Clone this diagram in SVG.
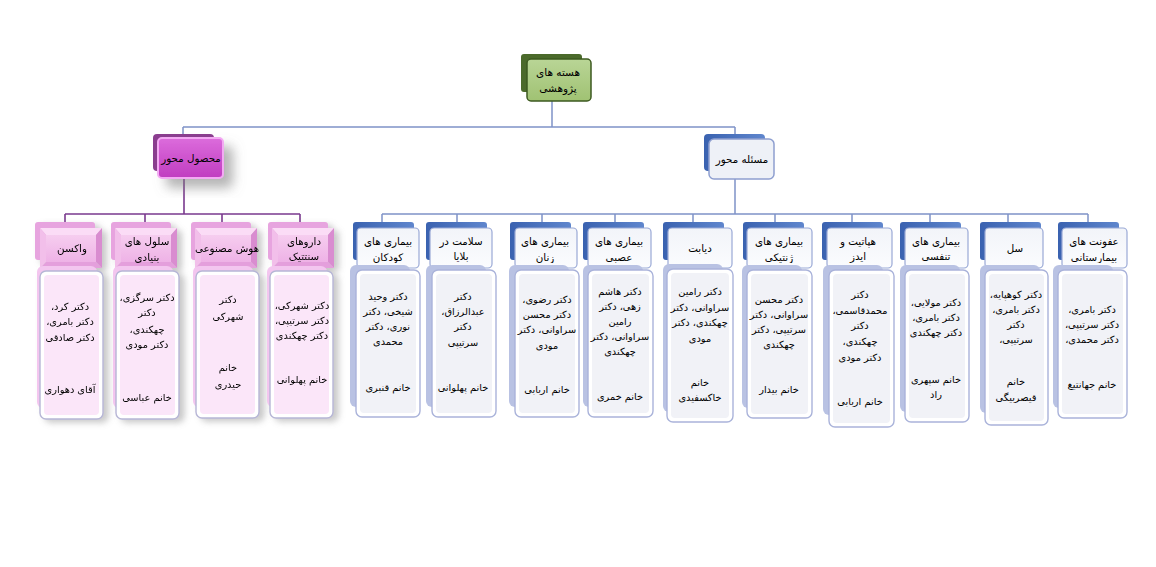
<svg xmlns="http://www.w3.org/2000/svg" xmlns:xlink="http://www.w3.org/1999/xlink" width="1156" height="567" viewBox="0 0 1156 567">
<style>
text{font-family:"DejaVu Sans",sans-serif;direction:rtl;text-anchor:middle;fill:#000}
.b{font-size:9.8px}
.h{font-size:10.3px}
.r{font-size:10.5px}
.cb{fill:none;stroke:#7f93c8;stroke-width:1.5}
.cp{fill:none;stroke:#7a3a8e;stroke-width:1.6}
.bhb{fill:url(#blueBack)}
.bhf{fill:url(#hdrFill);stroke:#9aa9d6;stroke-width:1.2}
.bbb{fill:#b9c2e3}
.bbf{fill:#ffffff;stroke:#aab3da;stroke-width:1.4}
.bbi{fill:#f1f2f7}
.pbb{fill:#f3c6ef}
.pbf{fill:#ffffff;stroke:#b7b6d6;stroke-width:1.4}
.pbi{fill:#fbe6f9}
.phb{fill:#e7a4df}
</style>
<defs>
<linearGradient id="blueBack" x1="0" y1="0" x2="1" y2="0"><stop offset="0" stop-color="#3a62b0"/><stop offset="1" stop-color="#5f86cd"/></linearGradient>
<linearGradient id="hdrFill" x1="0" y1="0" x2="0" y2="1"><stop offset="0" stop-color="#f2f4f9"/><stop offset="1" stop-color="#fbfcfe"/></linearGradient>
<linearGradient id="greenFront" x1="0" y1="0" x2="0" y2="1"><stop offset="0" stop-color="#b9d596"/><stop offset="1" stop-color="#a0c273"/></linearGradient>
<linearGradient id="pinkL2" x1="0" y1="0" x2="0" y2="1"><stop offset="0" stop-color="#dc6cdc"/><stop offset="1" stop-color="#c03cc0"/></linearGradient>
<linearGradient id="pinkFace" x1="0" y1="0" x2="0" y2="1"><stop offset="0" stop-color="#f6cdef"/><stop offset="1" stop-color="#eeb2e6"/></linearGradient>
<filter id="sh" x="-30%" y="-30%" width="180%" height="180%"><feDropShadow dx="9" dy="9" stdDeviation="6" flood-color="#777" flood-opacity="0.55"/></filter>
<filter id="shs" x="-30%" y="-20%" width="180%" height="150%"><feDropShadow dx="5" dy="3" stdDeviation="3" flood-color="#888" flood-opacity="0.45"/></filter>
<g id="pinkHead">
<polygon points="0,0 62,0 56,7 6,7" fill="#fbdcf6"/>
<polygon points="0,0 6,7 6,34 0,40" fill="#f2bfea"/>
<polygon points="62,0 62,40 56,34 56,7" fill="#d98cd0"/>
<polygon points="0,40 6,34 56,34 62,40" fill="#e49fdc"/>
<rect x="6" y="7" width="50" height="27" fill="url(#pinkFace)"/>
</g>
<clipPath id="hc"><rect x="0" y="224" width="1156" height="39"/></clipPath>
</defs>

<g id="connectors">
<path class="cb" d="M552 101V127M183 127H735M183 127V138M735 127V139"/>
<path class="cb" d="M735 179V214M382 214H1088M382 214V222M457 214V222M542 214V222M615 214V222M693 214V222M775 214V222M852 214V222M930 214V222M1008 214V222M1088 214V222"/>
<path class="cp" d="M184 178V214M65 214H300M65 214V222M145 214V222M222 214V222M300 214V222"/>
</g>

<g id="root">
<rect x="521" y="54" width="61" height="38" rx="3" fill="#4b6a2b"/>
<rect x="527" y="59" width="64" height="42" rx="4" fill="url(#greenFront)" stroke="#3d5a20" stroke-width="1.5"/>
<text class="r" x="558"><tspan x="558" y="76">هسته های</tspan><tspan x="558" y="92">پژوهشی</tspan></text>
</g>

<g id="masale">
<rect x="704" y="134" width="61" height="37" rx="4" fill="url(#blueBack)"/>
<rect x="709" y="139" width="65" height="40" rx="5" fill="#eef1f7" stroke="#8e9fd0" stroke-width="1.5"/>
<text class="h" x="742" y="163">مسئله محور</text>
</g>

<g id="mahsul">
<rect x="153" y="134" width="61" height="37" rx="4" fill="#8b3d8f"/>
<rect x="158" y="138" width="65" height="40" rx="4" fill="url(#pinkL2)" stroke="#f3aaf3" stroke-width="2" filter="url(#sh)"/>
<text class="h" x="191" y="162">محصول محور</text>
</g>

<!-- pink columns -->
<g id="vaccine" filter="url(#shs)">
<rect class="phb" x="35" y="222" width="60" height="38" rx="3"/>
<use xlink:href="#pinkHead" x="40" y="228"/>
<text class="h" x="72" y="252">واکسن</text>
<rect class="pbb" x="37" y="266" width="60" height="142" rx="6"/>
<rect class="pbf" x="40" y="271" width="63" height="148" rx="6"/>
<rect class="pbi" x="44" y="275" width="55" height="140" rx="4"/>
<text class="b"><tspan x="70" y="310">دکتر کرد،</tspan><tspan x="70" y="325">دکتر بامری،</tspan><tspan x="70" y="341">دکتر صادقی</tspan><tspan x="70" y="393">آقای دهواری</tspan></text>
</g>

<g id="stemcell" filter="url(#shs)">
<rect class="phb" x="111" y="222" width="60" height="38" rx="3"/>
<use xlink:href="#pinkHead" x="115" y="228"/>
<text class="h" clip-path="url(#hc)"><tspan x="147" y="245">سلول های</tspan><tspan x="147" y="261">بنیادی</tspan></text>
<rect class="pbb" x="113" y="266" width="60" height="142" rx="6"/>
<rect class="pbf" x="116" y="271" width="63" height="148" rx="6"/>
<rect class="pbi" x="120" y="275" width="55" height="140" rx="4"/>
<text class="b"><tspan x="147" y="301">دکتر سرگزی،</tspan><tspan x="147" y="316">دکتر</tspan><tspan x="147" y="333">چهکندی،</tspan><tspan x="147" y="348">دکتر مودی</tspan><tspan x="147" y="401">خانم عباسی</tspan></text>
</g>

<g id="ai" filter="url(#shs)">
<rect class="phb" x="191" y="222" width="60" height="38" rx="3"/>
<use xlink:href="#pinkHead" x="195" y="228"/>
<text class="h" x="227" y="252">هوش مصنوعی</text>
<rect class="pbb" x="193" y="266" width="60" height="141" rx="6"/>
<rect class="pbf" x="196" y="271" width="63" height="147" rx="6"/>
<rect class="pbi" x="200" y="275" width="55" height="139" rx="4"/>
<text class="b"><tspan x="228" y="303">دکتر</tspan><tspan x="228" y="320">شهرکی</tspan><tspan x="228" y="371">خانم</tspan><tspan x="228" y="388">حیدری</tspan></text>
</g>

<g id="drugs" filter="url(#shs)">
<rect class="phb" x="268" y="222" width="60" height="38" rx="3"/>
<use xlink:href="#pinkHead" x="272" y="228"/>
<text class="h" clip-path="url(#hc)"><tspan x="304" y="245">داروهای</tspan><tspan x="304" y="260">سنتتیک</tspan></text>
<rect class="pbb" x="267" y="266" width="60" height="141" rx="6"/>
<rect class="pbf" x="270" y="271" width="63" height="147" rx="6"/>
<rect class="pbi" x="274" y="275" width="55" height="139" rx="4"/>
<text class="b"><tspan x="302" y="309">دکتر شهرکی،</tspan><tspan x="302" y="324">دکتر سرتیپی،</tspan><tspan x="302" y="339">دکتر چهکندی</tspan><tspan x="302" y="383">خانم پهلوانی</tspan></text>
</g>

<!-- blue columns -->
<g id="kudakan">
<rect class="bhb" x="353" y="222" width="61" height="38" rx="3"/>
<rect class="bhf" x="357" y="228" width="62" height="40" rx="4"/>
<text class="h" clip-path="url(#hc)"><tspan x="388" y="245">بیماری های</tspan><tspan x="388" y="261">کودکان</tspan></text>
<rect class="bbb" x="350" y="265" width="60" height="142" rx="6"/>
<rect class="bbf" x="356" y="270" width="64" height="147" rx="6"/>
<rect class="bbi" x="360" y="274" width="56" height="139" rx="4"/>
<text class="b"><tspan x="388" y="300">دکتر وحید</tspan><tspan x="388" y="315">شیخی، دکتر</tspan><tspan x="388" y="330">نوری، دکتر</tspan><tspan x="388" y="345">محمدی</tspan><tspan x="388" y="391">خانم قنبری</tspan></text>
</g>

<g id="balaya">
<rect class="bhb" x="426" y="222" width="61" height="38" rx="3"/>
<rect class="bhf" x="430" y="228" width="62" height="40" rx="4"/>
<text class="h" clip-path="url(#hc)"><tspan x="461" y="245">سلامت در</tspan><tspan x="461" y="260">بلایا</tspan></text>
<rect class="bbb" x="426" y="265" width="60" height="142" rx="6"/>
<rect class="bbf" x="432" y="270" width="64" height="147" rx="6"/>
<rect class="bbi" x="436" y="274" width="56" height="139" rx="4"/>
<text class="b"><tspan x="463" y="300">دکتر</tspan><tspan x="463" y="315">عبدالرزاق،</tspan><tspan x="463" y="330">دکتر</tspan><tspan x="463" y="346">سرتیپی</tspan><tspan x="463" y="391">خانم پهلوانی</tspan></text>
</g>

<g id="zanan">
<rect class="bhb" x="510" y="222" width="61" height="38" rx="3"/>
<rect class="bhf" x="515" y="228" width="62" height="40" rx="4"/>
<text class="h" clip-path="url(#hc)"><tspan x="545" y="245">بیماری های</tspan><tspan x="545" y="261">زنان</tspan></text>
<rect class="bbb" x="509" y="265" width="60" height="142" rx="6"/>
<rect class="bbf" x="515" y="270" width="64" height="147" rx="6"/>
<rect class="bbi" x="519" y="274" width="56" height="139" rx="4"/>
<text class="b"><tspan x="547" y="303">دکتر رضوی،</tspan><tspan x="547" y="318">دکتر محسن</tspan><tspan x="547" y="333">سراوانی، دکتر</tspan><tspan x="547" y="349">مودی</tspan><tspan x="547" y="393">خانم اربابی</tspan></text>
</g>

<g id="asabi">
<rect class="bhb" x="583" y="222" width="61" height="38" rx="3"/>
<rect class="bhf" x="588" y="228" width="63" height="40" rx="4"/>
<text class="h" clip-path="url(#hc)"><tspan x="619" y="245">بیماری های</tspan><tspan x="619" y="261">عصبی</tspan></text>
<rect class="bbb" x="583" y="265" width="60" height="142" rx="6"/>
<rect class="bbf" x="588" y="270" width="65" height="147" rx="6"/>
<rect class="bbi" x="592" y="274" width="57" height="139" rx="4"/>
<text class="b"><tspan x="620" y="295">دکتر هاشم</tspan><tspan x="620" y="310">زهی، دکتر</tspan><tspan x="620" y="325">رامین</tspan><tspan x="620" y="340">سراوانی، دکتر</tspan><tspan x="620" y="355">چهکندی</tspan><tspan x="620" y="400">خانم خمری</tspan></text>
</g>

<g id="diabetes">
<rect class="bhb" x="663" y="222" width="61" height="38" rx="3"/>
<rect class="bhf" x="668" y="228" width="64" height="40" rx="4"/>
<text class="h" x="700" y="252">دیابت</text>
<rect class="bbb" x="663" y="264" width="60" height="148" rx="6"/>
<rect class="bbf" x="667" y="269" width="66" height="153" rx="6"/>
<rect class="bbi" x="671" y="273" width="58" height="145" rx="4"/>
<text class="b"><tspan x="700" y="295">دکتر رامین</tspan><tspan x="700" y="311">سراوانی، دکتر</tspan><tspan x="700" y="326">چهکندی، دکتر</tspan><tspan x="700" y="342">مودی</tspan><tspan x="700" y="386">خانم</tspan><tspan x="700" y="401">خاکسفیدی</tspan></text>
</g>

<g id="genetic">
<rect class="bhb" x="743" y="222" width="61" height="38" rx="3"/>
<rect class="bhf" x="747" y="228" width="65" height="40" rx="4"/>
<text class="h" clip-path="url(#hc)"><tspan x="779" y="245">بیماری های</tspan><tspan x="779" y="261">ژنتیکی</tspan></text>
<rect class="bbb" x="742" y="265" width="60" height="143" rx="6"/>
<rect class="bbf" x="747" y="270" width="65" height="148" rx="6"/>
<rect class="bbi" x="751" y="274" width="57" height="140" rx="4"/>
<text class="b"><tspan x="779" y="303">دکتر محسن</tspan><tspan x="779" y="318">سراوانی، دکتر</tspan><tspan x="779" y="333">سرتیپی، دکتر</tspan><tspan x="779" y="348">چهکندی</tspan><tspan x="779" y="393">خانم بیدار</tspan></text>
</g>

<g id="hepatit">
<rect class="bhb" x="822" y="222" width="61" height="38" rx="3"/>
<rect class="bhf" x="827" y="228" width="65" height="40" rx="4"/>
<text class="h" clip-path="url(#hc)"><tspan x="858" y="245">هپاتیت و</tspan><tspan x="858" y="260">ایدز</tspan></text>
<rect class="bbb" x="823" y="265" width="60" height="150" rx="6"/>
<rect class="bbf" x="829" y="270" width="65" height="157" rx="6"/>
<rect class="bbi" x="833" y="274" width="57" height="149" rx="4"/>
<text class="b"><tspan x="860" y="298">دکتر</tspan><tspan x="860" y="314">محمدقاسمی،</tspan><tspan x="860" y="329">دکتر</tspan><tspan x="860" y="345">چهکندی،</tspan><tspan x="860" y="361">دکتر مودی</tspan><tspan x="860" y="405">خانم اربابی</tspan></text>
</g>

<g id="tanaffosi">
<rect class="bhb" x="900" y="222" width="61" height="38" rx="3"/>
<rect class="bhf" x="905" y="228" width="63" height="40" rx="4"/>
<text class="h" clip-path="url(#hc)"><tspan x="936" y="245">بیماری های</tspan><tspan x="936" y="260">تنفسی</tspan></text>
<rect class="bbb" x="900" y="265" width="60" height="147" rx="6"/>
<rect class="bbf" x="905" y="270" width="64" height="152" rx="6"/>
<rect class="bbi" x="909" y="274" width="56" height="144" rx="4"/>
<text class="b"><tspan x="936" y="306">دکتر مولایی،</tspan><tspan x="936" y="321">دکتر بامری،</tspan><tspan x="936" y="336">دکتر چهکندی</tspan><tspan x="936" y="383">خانم سپهری</tspan><tspan x="936" y="398">راد</tspan></text>
</g>

<g id="sell">
<rect class="bhb" x="980" y="222" width="61" height="38" rx="3"/>
<rect class="bhf" x="985" y="228" width="58" height="40" rx="4"/>
<text class="h" x="1015" y="252">سل</text>
<rect class="bbb" x="980" y="265" width="60" height="148" rx="6"/>
<rect class="bbf" x="985" y="270" width="63" height="155" rx="6"/>
<rect class="bbi" x="989" y="274" width="55" height="147" rx="4"/>
<text class="b"><tspan x="1016" y="298">دکتر کوهپایه،</tspan><tspan x="1016" y="313">دکتر بامری،</tspan><tspan x="1016" y="328">دکتر</tspan><tspan x="1016" y="343">سرتیپی،</tspan><tspan x="1016" y="385">خانم</tspan><tspan x="1016" y="401">قیصربیگی</tspan></text>
</g>

<g id="ofunat">
<rect class="bhb" x="1058" y="222" width="61" height="38" rx="3"/>
<rect class="bhf" x="1062" y="228" width="65" height="40" rx="4"/>
<text class="h" clip-path="url(#hc)"><tspan x="1094" y="245">عفونت های</tspan><tspan x="1094" y="261">بیمارستانی</tspan></text>
<rect class="bbb" x="1053" y="265" width="60" height="143" rx="6"/>
<rect class="bbf" x="1058" y="270" width="69" height="148" rx="6"/>
<rect class="bbi" x="1062" y="274" width="61" height="140" rx="4"/>
<text class="b"><tspan x="1092" y="313">دکتر بامری،</tspan><tspan x="1092" y="328">دکتر سرتیپی،</tspan><tspan x="1092" y="343">دکتر محمدی،</tspan><tspan x="1092" y="388">خانم جهانتیغ</tspan></text>
</g>
</svg>
